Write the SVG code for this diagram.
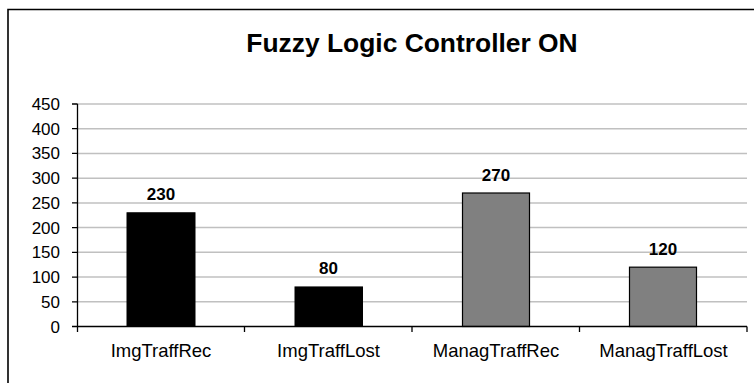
<svg xmlns="http://www.w3.org/2000/svg" width="754" height="383" viewBox="0 0 754 383">
<style>
text{font-family:"Liberation Sans",Arial,sans-serif;fill:#000}
.title{font-size:26.4px;font-weight:bold;text-anchor:middle}
.yl{font-size:17px;text-anchor:end}
.cl{font-size:18.5px;text-anchor:middle}
.vl{font-size:17px;font-weight:bold;text-anchor:middle}
.grid{stroke:#c0c0c0;stroke-width:1.5}
.ax{stroke:#000;stroke-width:1.3;fill:none}
.dark{fill:#000;stroke:#000;stroke-width:1}
.gray{fill:#808080;stroke:#000;stroke-width:1.2}
</style>
<rect x="0" y="0" width="754" height="383" fill="#fff"/>
<path d="M8 383 V9.5 H754" fill="none" stroke="#000" stroke-width="1.6"/>
<text class="title" x="412" y="52.3">Fuzzy Logic Controller ON</text>
<g id="grid">
<line class="grid" x1="77" y1="104" x2="747" y2="104"/>
<line class="grid" x1="77" y1="128.72" x2="747" y2="128.72"/>
<line class="grid" x1="77" y1="153.44" x2="747" y2="153.44"/>
<line class="grid" x1="77" y1="178.17" x2="747" y2="178.17"/>
<line class="grid" x1="77" y1="202.89" x2="747" y2="202.89"/>
<line class="grid" x1="77" y1="227.61" x2="747" y2="227.61"/>
<line class="grid" x1="77" y1="252.33" x2="747" y2="252.33"/>
<line class="grid" x1="77" y1="277.06" x2="747" y2="277.06"/>
<line class="grid" x1="77" y1="301.78" x2="747" y2="301.78"/>
</g>
<g id="bars">
<g id="bar-ImgTraffRec"><rect class="dark" x="127" y="212.78" width="68" height="113.72"/><text class="vl" x="161" y="200.3">230</text></g>
<g id="bar-ImgTraffLost"><rect class="dark" x="295" y="286.94" width="67.5" height="39.56"/><text class="vl" x="328.5" y="274.4">80</text></g>
<g id="bar-ManagTraffRec"><rect class="gray" x="462.5" y="193" width="67" height="133.5"/><text class="vl" x="496" y="180.5">270</text></g>
<g id="bar-ManagTraffLost"><rect class="gray" x="629.5" y="267.17" width="67" height="59.33"/><text class="vl" x="663" y="254.7">120</text></g>
</g>
<g id="axes">
<path class="ax" d="M77.5 104 V332 M72 326.5 H747 M244.5 326.5 V332 M412 326.5 V332 M579.5 326.5 V332 M747 326.5 V332"/>
<path class="ax" d="M72 104 H77.5 M72 128.72 H77.5 M72 153.44 H77.5 M72 178.17 H77.5 M72 202.89 H77.5 M72 227.61 H77.5 M72 252.33 H77.5 M72 277.06 H77.5 M72 301.78 H77.5"/>
</g>
<g id="ylabels">
<text class="yl" x="60" y="110">450</text>
<text class="yl" x="60" y="134.72">400</text>
<text class="yl" x="60" y="159.44">350</text>
<text class="yl" x="60" y="184.17">300</text>
<text class="yl" x="60" y="208.89">250</text>
<text class="yl" x="60" y="233.61">200</text>
<text class="yl" x="60" y="258.33">150</text>
<text class="yl" x="60" y="283.06">100</text>
<text class="yl" x="60" y="307.78">50</text>
<text class="yl" x="60" y="332.5">0</text>
</g>
<g id="xlabels">
<text class="cl" x="161" y="356.7">ImgTraffRec</text>
<text class="cl" x="328.5" y="356.7">ImgTraffLost</text>
<text class="cl" x="496" y="356.7">ManagTraffRec</text>
<text class="cl" x="663.5" y="356.7">ManagTraffLost</text>
</g>
</svg>
